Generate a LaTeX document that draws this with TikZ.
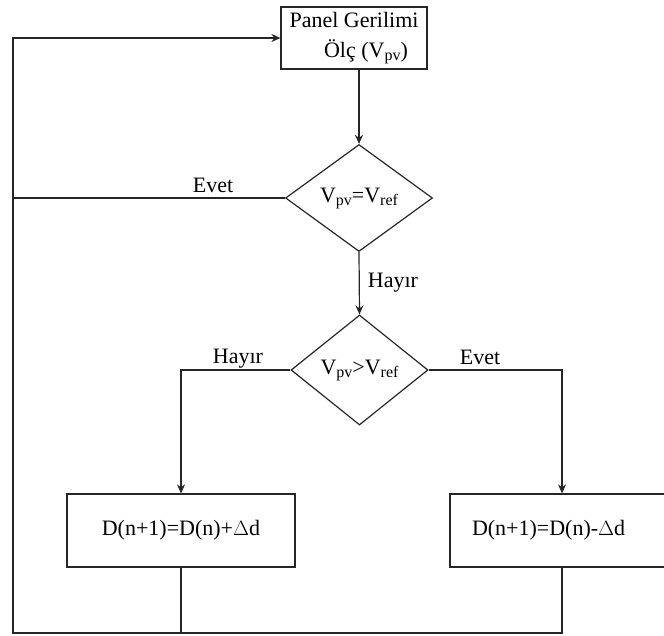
\documentclass[tikz,border=0pt]{standalone}
\usepackage{fontspec}
\setmainfont{Liberation Serif}
\usetikzlibrary{shapes.geometric,arrows.meta}
% lowered, slightly reduced subscript text
\newcommand\lowidx[1]{\raisebox{-3pt}{\fontsize{16pt}{16pt}\selectfont #1}}
\begin{document}
\begin{tikzpicture}[x=1pt,y=-1pt,
  line width=1.2pt, draw=black!85,
  every node/.style={font=\fontsize{22pt}{26pt}\selectfont, text=black},
  procbox/.style={draw, rectangle, inner sep=0pt},
  decision/.style={draw, diamond, inner sep=0pt},
  lbl/.style={anchor=base, inner sep=0pt},
  arr/.style={-{Stealth[length=9pt,width=8pt]}}]
\useasboundingbox (0,0) rectangle (664,635);
\clip (0,0) rectangle (664,635);

% process and decision blocks
\node[procbox, minimum width=146, minimum height=62, align=center] (measure) at (354,38)
  {Panel Gerilimi\\[4pt]\hspace*{24pt}Ölç (V\lowidx{pv})};
\node[decision, minimum width=147, minimum height=107, aspect=1.37] (d1) at (359,198)
  {V\lowidx{pv}=V\lowidx{ref}};
\node[decision, minimum width=137, minimum height=110, aspect=1.25] (d2) at (359.5,370)
  {V\lowidx{pv}>V\lowidx{ref}};
\node[procbox, minimum width=228, minimum height=73] (left) at (181,530.5)
  {D(n+1)=D(n)+$\Delta$d};
\node[procbox, minimum width=224, minimum height=73, text width=180pt, inner xsep=22pt, align=left] (right) at (562,530.5)
  {D(n+1)=D(n)-$\Delta$d};

% feedback corner of the loop
\coordinate (loopBot) at (13,633);

% connectors
\draw[arr] (measure.south -| d1.north) -- (d1.north);
\draw[arr] (d1.south) -- (d2.north);
\draw (d1.west) -- (d1.west -| loopBot);
\draw[arr] (d2.west) -| (left.north);
\draw[arr] (d2.east) -| (right.north);
\draw (left.south) -- (left.south |- loopBot);
\draw[arr] (right.south) |- (loopBot) |- (measure.west);

% branch labels
\node[lbl] (yes1) at (213,192) {Evet};
\node[lbl] (no1) at (393,287) {Hayır};
\node[lbl] (no2) at (238,363) {Hayır};
\node[lbl] (yes2) at (480,364) {Evet};
\end{tikzpicture}
\end{document}
